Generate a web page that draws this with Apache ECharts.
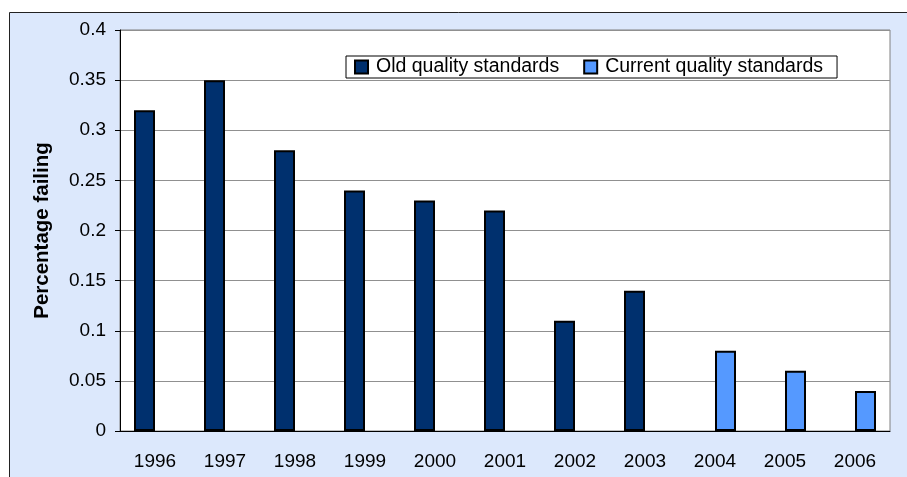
<!DOCTYPE html>
<html>
<head>
<meta charset="utf-8">
<script src="https://cdn.jsdelivr.net/npm/echarts@6/dist/echarts.min.js"></script>
<style>
html,body{margin:0;padding:0;background:#fff;}
#main{width:907px;height:477px;}
</style>
</head>
<body>
<div id="main"></div>
<script>
var categories = ['1996','1997','1998','1999','2000','2001','2002','2003','2004','2005','2006'];
var oldStandards = [0.32, 0.35, 0.28, 0.24, 0.23, 0.22, 0.11, 0.14, null, null, null];
var currentStandards = [null, null, null, null, null, null, null, null, 0.08, 0.06, 0.04];
var yTicks = {min: 0, max: 0.4, interval: 0.05};

var chart = echarts.init(document.getElementById('main'), null, {renderer: 'canvas'});
var font = 'Arial, "Liberation Sans", sans-serif';
chart.setOption({
  animation: false,
  graphic: [{
    type: 'rect', z: -10, silent: true,
    shape: {x: 9.5, y: 12.5, width: 1000, height: 1000},
    style: {fill: '#DCE8FC', stroke: '#222', lineWidth: 1}
  }],
  grid: {left: 120, top: 30, right: 17, bottom: 46, show: true,
         backgroundColor: '#fff', borderColor: '#808080', borderWidth: 1},
  legend: {
    left: 346, top: 56,
    padding: [1, 14, 1, 8],
    backgroundColor: '#fff', borderColor: '#000', borderWidth: 1,
    itemWidth: 13, itemHeight: 13, itemGap: 24, icon: 'rect',
    textStyle: {fontFamily: font, fontSize: 19.5, color: '#000', padding: [0, 0, 0, 3]},
    data: ['Old quality standards', 'Current quality standards']
  },
  xAxis: {
    type: 'category', data: categories,
    axisLine: {lineStyle: {color: '#000', width: 1}},
    axisTick: {length: 5, lineStyle: {color: '#000'}},
    axisLabel: {fontFamily: font, fontSize: 19, color: '#000', margin: 21}
  },
  yAxis: {
    type: 'value', min: yTicks.min, max: yTicks.max, interval: yTicks.interval,
    name: 'Percentage failing', nameLocation: 'middle', nameGap: 67,
    nameTextStyle: {fontFamily: font, fontSize: 20.5, fontWeight: 'bold', color: '#000'},
    axisLine: {show: true, lineStyle: {color: '#000', width: 1}},
    axisTick: {show: true, length: 5, lineStyle: {color: '#000'}},
    axisLabel: {fontFamily: font, fontSize: 19, color: '#000', margin: 14},
    splitLine: {lineStyle: {color: '#909090', width: 1}}
  },
  series: [{
    name: 'Old quality standards', type: 'bar', data: oldStandards,
    barWidth: 21, barGap: '0%',
    itemStyle: {color: '#00306E', borderColor: '#000', borderWidth: 2}
  }, {
    name: 'Current quality standards', type: 'bar', data: currentStandards,
    barWidth: 21, barGap: '0%',
    itemStyle: {color: '#5599FF', borderColor: '#000', borderWidth: 2}
  }]
});
</script>
</body>
</html>
